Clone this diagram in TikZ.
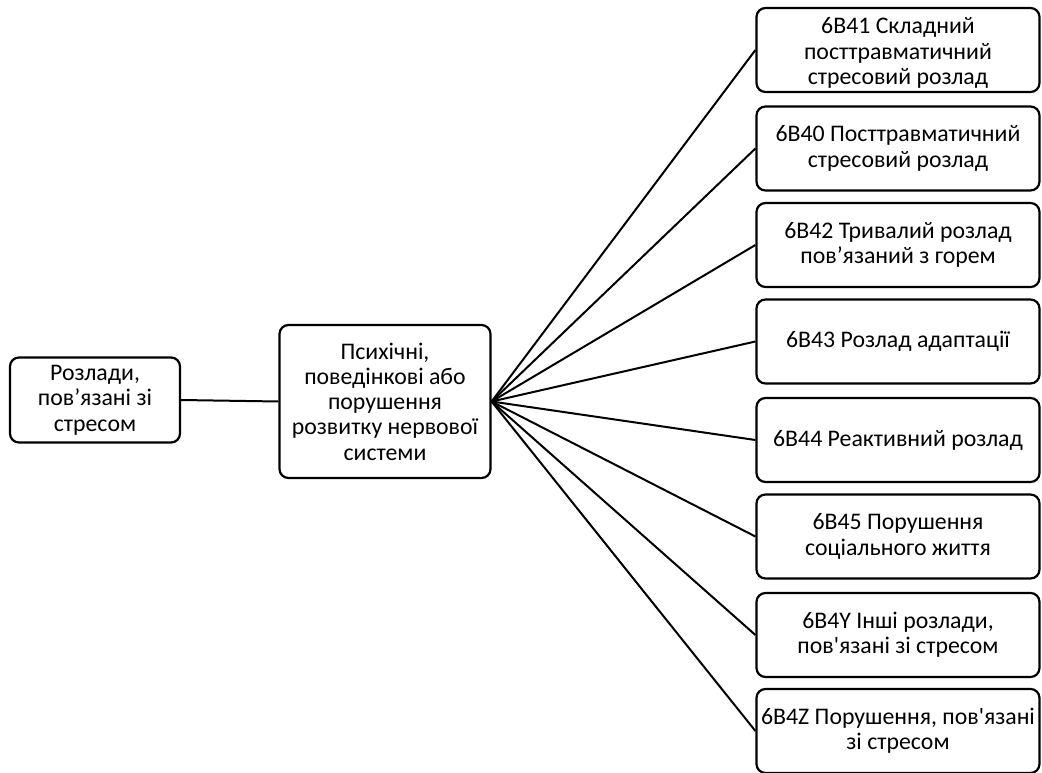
\documentclass[tikz,border=0pt]{standalone}
\usepackage{fontspec}
\setmainfont{Carlito}
\newfontfamily\nomapfont{Carlito}
\newcommand{\sq}{{\nomapfont '}}
\begin{document}
\begin{tikzpicture}[x=1pt,y=-1pt,
  box/.style={draw=black, line width=2.2pt, rounded corners=9pt, align=center,
    inner sep=0pt, font=\fontsize{23.8}{25.3}\selectfont, fill=white},
  rbox/.style={box, minimum width=283pt, minimum height=84pt},
  conn/.style={draw=black, line width=2pt}]
\useasboundingbox (0,0) rectangle (1042,773);
\node[box, minimum width=170pt, minimum height=85pt] (a) at (95,400) {Розлади,\\пов’язані зі\\стресом};
\node[box, minimum width=211pt, minimum height=153pt] (b) at (385,401.5) {Психічні,\\поведінкові або\\порушення\\розвитку нервової\\системи};
\node[rbox] (r1) at (898,50) {\rule{0pt}{22pt}6В41 Складний\\посттравматичний\\стресовий розлад};
\node[rbox] (r2) at (898,148.5) {6В40 Посттравматичний\\стресовий розлад};
\node[rbox] (r3) at (898,245) {6В42 Тривалий розлад\\пов’язаний з горем};
\node[rbox] (r4) at (898,341.5) {6В43 Розлад адаптації};
\node[rbox] (r5) at (898,440) {6В44 Реактивний розлад};
\node[rbox] (r6) at (898,536.5) {6В45 Порушення\\соціального життя};
\node[rbox] (r7) at (898,635) {6В4Y Інші розлади,\\пов\sq язані зі стресом};
\node[rbox] (r8) at (898,731) {6В4Z Порушення, пов\sq язані\\зі стресом};
\draw[conn] (a.east) -- (b.west);
\foreach \i in {1,...,8} {\draw[conn] (b.east) -- (r\i.west);}
\end{tikzpicture}
\end{document}
